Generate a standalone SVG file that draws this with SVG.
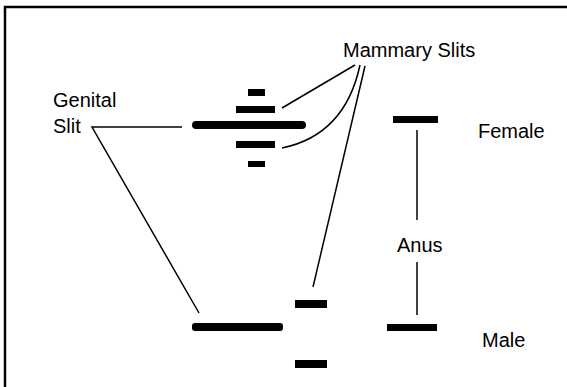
<svg xmlns="http://www.w3.org/2000/svg" width="567" height="387" viewBox="0 0 567 387">
<style>
.t{font-family:"Liberation Sans",Arial,sans-serif;font-size:20px;fill:#000}
.bar{fill:#000}
.ln{fill:none;stroke:#000;stroke-width:1.5}
</style>
<rect x="0" y="0" width="567" height="387" fill="#fff"/>
<g id="frame"><path d="M5,387 V7 H567" fill="none" stroke="#000" stroke-width="2.5"/></g>
<g id="female-slits">
<rect class="bar" x="248" y="89" width="17" height="7"/>
<rect class="bar" x="236" y="106" width="39" height="7"/>
<rect class="bar" x="192" y="121" width="114" height="8" rx="4"/>
<rect class="bar" x="236" y="141" width="39" height="7"/>
<rect class="bar" x="248" y="161" width="17" height="6"/>
</g>
<g id="male-slits">
<rect class="bar" x="295" y="300" width="32" height="8"/>
<rect class="bar" x="192" y="323" width="91" height="8" rx="3"/>
<rect class="bar" x="295" y="360" width="32" height="8"/>
</g>
<g id="anus-female"><rect class="bar" x="393" y="116" width="45" height="7"/></g>
<g id="anus-male"><rect class="bar" x="387" y="324" width="50" height="7"/></g>
<g id="label-mammary"><text class="t" x="343" y="57">Mammary Slits</text></g>
<g id="label-genital"><text class="t" x="53" y="107">Genital</text><text class="t" x="53" y="133">Slit</text></g>
<g id="label-female"><text class="t" x="478" y="138">Female</text></g>
<g id="label-anus"><text class="t" x="397" y="252">Anus</text></g>
<g id="label-male"><text class="t" x="482" y="347">Male</text></g>
<g id="connectors">
<path class="ln" d="M282,108 L355,65"/>
<path class="ln" d="M282,148 Q345,135 360,65"/>
<path class="ln" d="M365,66 L313,287"/>
<path class="ln" d="M182,127 H92 L199,313"/>
<path class="ln" d="M417,130 V220"/>
<path class="ln" d="M417,262 V315"/>
</g>
</svg>
